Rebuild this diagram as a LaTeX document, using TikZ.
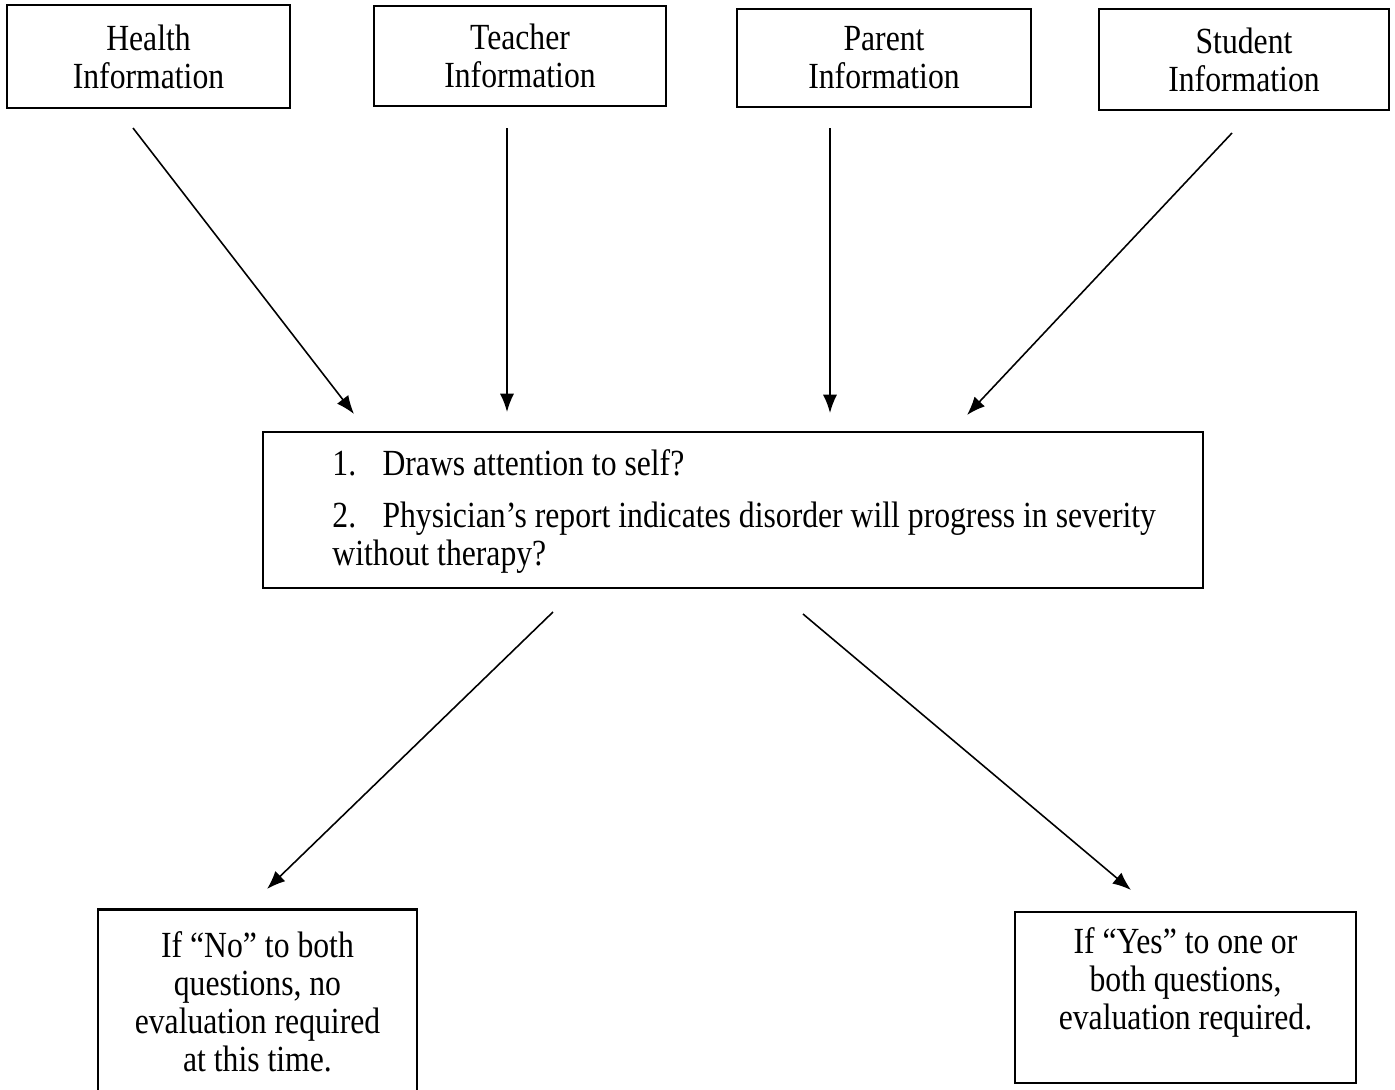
\documentclass[tikz,border=0pt]{standalone}
\usepackage{fontspec}
\setmainfont{Liberation Serif}[FakeStretch=0.86]
\usetikzlibrary{arrows.meta}

\tikzset{
  infobox/.style={draw, rectangle, line width=0.8pt, align=center, inner sep=0pt},
  arr/.style={->, >={Latex[length=7pt,width=5.4pt]}, line width=0.6pt}
}

\begin{document}
\begin{tikzpicture}[x=0.38pt, y=-0.38pt, font=\fontsize{14}{14.4}\selectfont]
				\useasboundingbox (0,0) rectangle (1395,1090);
				% sources
				\node[infobox, minimum width=107.5pt, minimum height=39.1pt] (H)at(148.5, 56.5) {Health\\Information};
				\node[infobox, minimum width=111pt, minimum height=38pt] (T)at(520, 56) {Teacher\\Information};
				\node[infobox, minimum width=111.7pt, minimum height=37.2pt] (P)at(884, 58) {Parent\\Information};
				\node[infobox, minimum width=110.2pt, minimum height=38.4pt] (S)at(1244, 59.5) {Student\\Information};
				% questions
				\node[infobox, minimum width=357.2pt, minimum height=59.3pt] (Q)at(733, 510) {};
				\node[anchor=west, align=left, inner sep=0pt] (Qtext)at([xshift=26.6pt, yshift=-0.5pt]Q.west) {1.\hspace{10pt}Draws attention to self?\\[5.3pt]
					2.\hspace{10pt}Physician’s report indicates disorder will progress in severity\\without therapy?};
				% outcomes
				\node[infobox, minimum width=121.2pt, minimum height=70.3pt] (No)at(257.5, 1002) {If “No” to both\\questions, no\\evaluation required\\at this time.};
				\node[infobox, minimum width=129.6pt, minimum height=65pt] (Yes)at(1185.5, 997.5) {If “Yes” to one or\\both questions,\\evaluation required.\\\mbox{}};
				% arrow ends
				\coordinate (H1)at(133, 128); \coordinate (H2)at(354, 414);
				\coordinate (T1)at(507, 128); \coordinate (T2)at(507, 412);
				\coordinate (P1)at(830, 128); \coordinate (P2)at(830, 413);
				\coordinate (S1)at(1232, 133); \coordinate (S2)at(967, 415);
				\coordinate (N1)at(553, 612); \coordinate (N2)at(267, 889);
				\coordinate (Y1)at(803, 614); \coordinate (Y2)at(1131, 890);
				\draw[arr] (H1) -- (H2);
				\draw[arr] (T1) -- (T2);
				\draw[arr] (P1) -- (P2);
				\draw[arr] (S1) -- (S2);
				\draw[arr] (N1) -- (N2);
				\draw[arr] (Y1) -- (Y2);
			\end{tikzpicture}
\end{document}
